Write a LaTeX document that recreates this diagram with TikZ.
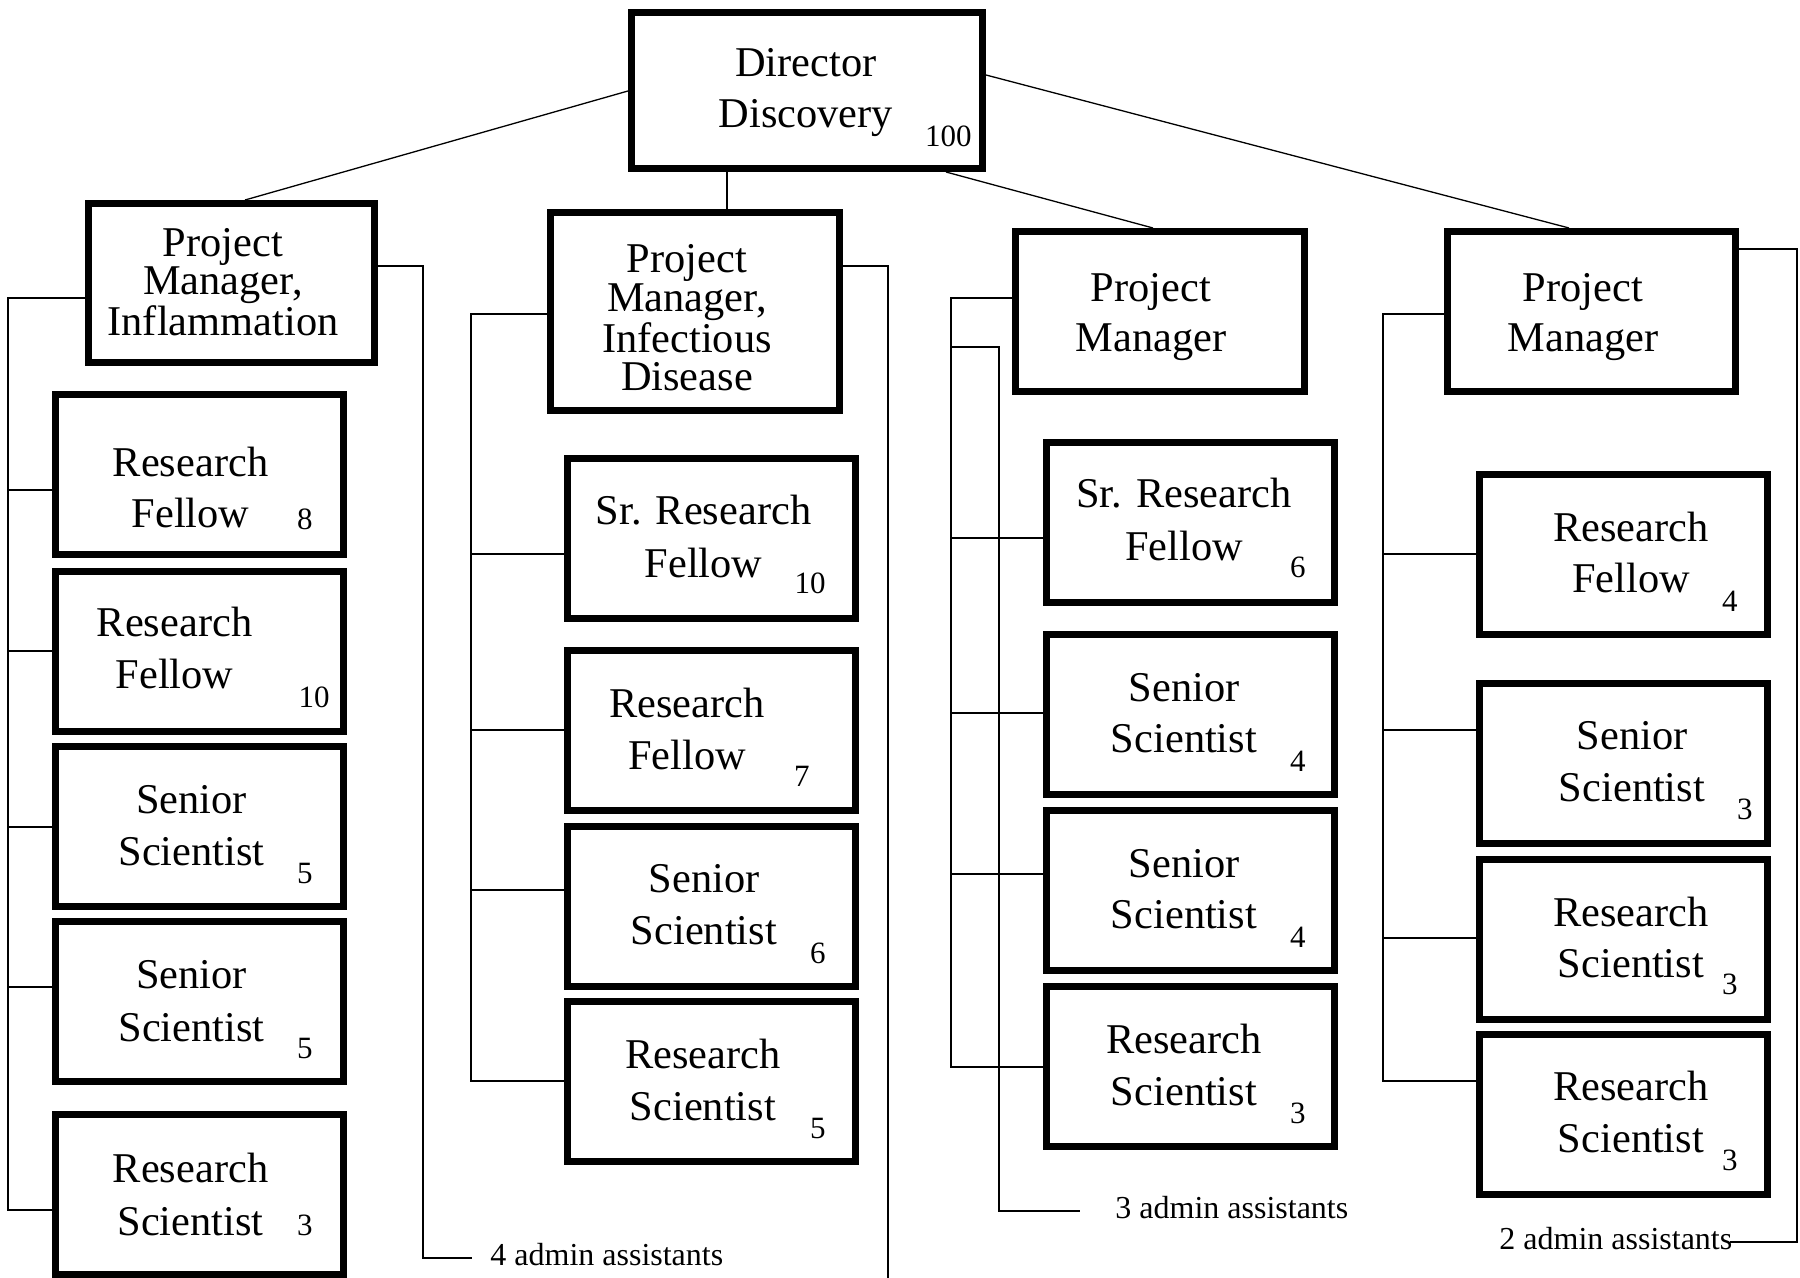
\documentclass[tikz,border=0pt]{standalone}
\usepackage{fontspec}
\setmainfont{Liberation Serif}
\usetikzlibrary{calc}
\tikzset{
  orgbox/.style={draw, line width=3.5pt, outer sep=1.75pt, inner sep=0pt, anchor=north west},
  cbox/.style={orgbox, minimum width=144pt, minimum height=80pt},
  lbl/.style={inner sep=0pt, anchor=base, font=\fontsize{21.2}{25}\selectfont},
  tightlbl/.style={inner sep=0pt, anchor=base, align=center, font=\fontsize{21.2}{19.3}\selectfont},
  num/.style={inner sep=0pt, anchor=base east, font=\fontsize{15.5}{18}\selectfont},
  adm/.style={inner sep=0pt, anchor=base west, font=\fontsize{16}{19}\selectfont},
  conn/.style={line width=0.65pt},
}
\newcommand\twolbl[8]{%
  \node[lbl] (#1-1) at (#2,#3) {#5};
  \node[lbl] (#1-2) at (#2,#4) {#6};
  \node[num] (#1-n) at (#8) {#7};
}
\begin{document}
\begin{tikzpicture}[x=0.5pt,y=-0.5pt]
\useasboundingbox (0,0) rectangle (1800,1278);

% ---------- boxes ----------
\node[orgbox, minimum width=175.5pt, minimum height=78pt] (dir) at (628,9) {};
\node[orgbox, minimum width=143pt, minimum height=79.5pt] (pm1) at (85,200) {};
\node[orgbox, minimum width=144.5pt, minimum height=99pt] (pm2) at (547,209) {};
\node[orgbox, minimum width=144.5pt, minimum height=80pt] (pm3) at (1012,228) {};
\node[orgbox, minimum width=144pt, minimum height=80pt] (pm4) at (1444,228) {};

% column 1
\node[cbox] (rf8)  at (52,391) {};
\node[cbox] (rf10) at (52,568) {};
\node[cbox] (ss5a) at (52,743) {};
\node[cbox] (ss5b) at (52,918) {};
\node[cbox] (rs3a) at (52,1111) {};
% column 2
\node[cbox] (srrf10) at (564,455) {};
\node[cbox] (rf7)    at (564,647) {};
\node[cbox] (ss6)    at (564,823) {};
\node[cbox] (rs5)    at (564,998) {};
% column 3
\node[cbox] (srrf6) at (1043,439) {};
\node[cbox] (ss4a)  at (1043,631) {};
\node[cbox] (ss4b)  at (1043,807) {};
\node[cbox] (rs3c)  at (1043,983) {};
% column 4
\node[cbox] (rf4)  at (1476,471) {};
\node[cbox] (ss3)  at (1476,680) {};
\node[cbox] (rs3d) at (1476,856) {};
\node[cbox] (rs3e) at (1476,1031) {};

% ---------- texts ----------
\node[lbl] (dir-1) at (806,77) {Director};
\node[lbl] (dir-2) at (806,128) {Discovery};
\node[num] (dir-n) at (972,147) {100};

\node[tightlbl] (pm1-t) at (223,336) {Project\\Manager,\\Inflammation};
\node[tightlbl] (pm2-t) at (687,391) {Project\\Manager,\\Infectious\\Disease};

\node[lbl] (pm3-1) at (1151,302) {Project};
\node[lbl] (pm3-2) at (1151,352) {Manager};
\node[lbl] (pm4-1) at (1583,302) {Project};
\node[lbl] (pm4-2) at (1583,352) {Manager};

\twolbl{t-rf8}{190.5}{477}{528}{Research}{Fellow}{8}{313,530}
\twolbl{t-rf10}{174.5}{636}{688}{Research}{Fellow}{10}{330,707}
\twolbl{t-ss5a}{191.5}{813}{865}{Senior}{Scientist}{5}{313,883}
\twolbl{t-ss5b}{191.5}{988}{1041}{Senior}{Scientist}{5}{313,1058}
\twolbl{t-rs3a}{190.5}{1182}{1235}{Research}{Scientist}{3}{313,1235}

\twolbl{t-srrf10}{703.5}{525}{577}{Sr. Research}{Fellow}{10}{826,594}
\twolbl{t-rf7}{687}{717}{769}{Research}{Fellow}{7}{810,786}
\twolbl{t-ss6}{704}{892}{944}{Senior}{Scientist}{6}{826,963}
\twolbl{t-rs5}{703}{1068}{1120}{Research}{Scientist}{5}{826,1138}

\twolbl{t-srrf6}{1184}{508}{560}{Sr. Research}{Fellow}{6}{1306,578}
\twolbl{t-ss4a}{1184}{701}{752}{Senior}{Scientist}{4}{1306,771}
\twolbl{t-ss4b}{1184}{877}{928}{Senior}{Scientist}{4}{1306,947}
\twolbl{t-rs3c}{1184}{1053}{1105}{Research}{Scientist}{3}{1306,1123}

\twolbl{t-rf4}{1631}{542}{593}{Research}{Fellow}{4}{1738,611}
\twolbl{t-ss3}{1632}{749}{801}{Senior}{Scientist}{3}{1753,819}
\twolbl{t-rs3d}{1631}{926}{977}{Research}{Scientist}{3}{1738,994}
\twolbl{t-rs3e}{1631}{1100}{1152}{Research}{Scientist}{3}{1738,1170}

\node[adm] (adm1) at (490,1265) {4 admin assistants};
\node[adm] (adm3) at (1115,1218) {3 admin assistants};
\node[adm] (adm4) at (1499,1249) {2 admin assistants};
\coordinate (a1end) at (472,1258);
\coordinate (a3end) at (1080,1211);
\coordinate (a4end) at (1730,1242);

% ---------- connectors ----------
\draw[conn] ($(dir.north west)+(0,82)$) -- ($(pm1.north west)+(160,0)$);
\draw[conn] ($(dir.south west)+(99,0)$) -- ($(pm2.north west)+(180,0)$);
\draw[conn] ($(dir.south west)+(318,0)$) -- ($(pm3.north west)+(141,0)$);
\draw[conn] ($(dir.north east)+(0,66)$) -- ($(pm4.north west)+(125,0)$);

% column 1
\draw[conn] ($(pm1.north west)+(0,98)$) -- ++(-77,0) |- ($(rs3a.north west)+(0,99)$);
\draw[conn] ($(rf8.north west)+(0,99)$) -- ++(-44,0);
\draw[conn] ($(rf10.north west)+(0,83)$) -- ++(-44,0);
\draw[conn] ($(ss5a.north west)+(0,84)$) -- ++(-44,0);
\draw[conn] ($(ss5b.north west)+(0,69)$) -- ++(-44,0);
\draw[conn] ($(pm1.north east)+(0,66)$) -- ++(45,0) |- (a1end);

% column 2
\draw[conn] ($(pm2.north west)+(0,105)$) -- ++(-76,0) |- ($(rs5.north west)+(0,83)$);
\draw[conn] ($(srrf10.north west)+(0,99)$) -- ++(-93,0);
\draw[conn] ($(rf7.north west)+(0,83)$) -- ++(-93,0);
\draw[conn] ($(ss6.north west)+(0,67)$) -- ++(-93,0);
\draw[conn] ($(pm2.north east)+(0,57)$) -- ++(45,0) -- ++(0,1012);

% column 3
\draw[conn] ($(pm3.north west)+(0,70)$) -- ++(-61,0) |- ($(rs3c.north west)+(0,84)$);
\draw[conn] ($(srrf6.north west)+(0,99)$) -- ++(-92,0);
\draw[conn] ($(ss4a.north west)+(0,82)$) -- ++(-92,0);
\draw[conn] ($(ss4b.north west)+(0,67)$) -- ++(-92,0);
\draw[conn] ($(pm3.north west)+(-61,119)$) -- ++(48,0) |- (a3end);

% column 4
\draw[conn] ($(pm4.north west)+(0,86)$) -- ++(-61,0) |- ($(rs3e.north west)+(0,50)$);
\draw[conn] ($(rf4.north west)+(0,83)$) -- ++(-93,0);
\draw[conn] ($(ss3.north west)+(0,50)$) -- ++(-93,0);
\draw[conn] ($(rs3d.north west)+(0,82)$) -- ++(-93,0);
\draw[conn] ($(pm4.north east)+(0,21)$) -- ++(58,0) |- (a4end);
\end{tikzpicture}
\end{document}
